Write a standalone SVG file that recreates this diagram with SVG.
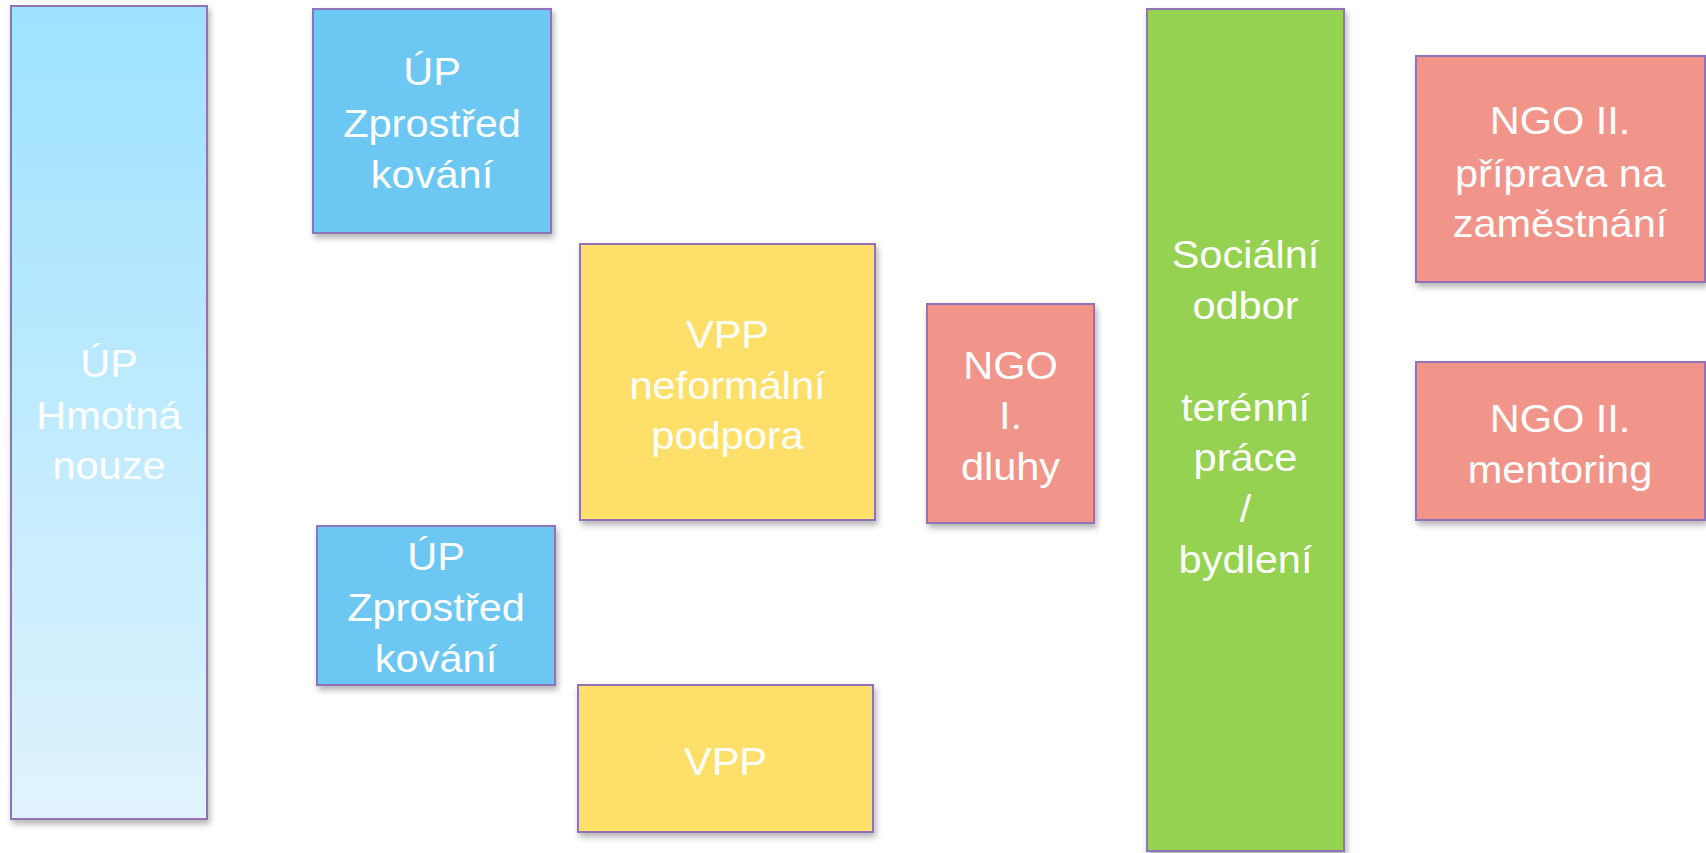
<svg xmlns="http://www.w3.org/2000/svg" width="1706" height="853" viewBox="0 0 1706 853">
<defs>
<linearGradient id="gradHN" x1="0" y1="0" x2="0" y2="1">
<stop offset="0" stop-color="#9DE2FF"/>
<stop offset="1" stop-color="#E0F3FD"/>
</linearGradient>
<filter id="shadow" x="-10%" y="-10%" width="130%" height="130%">
<feDropShadow dx="2" dy="4" stdDeviation="3" flood-color="#000" flood-opacity="0.3"/>
</filter>
<style>
.box{stroke:#9273B8;stroke-width:2;filter:url(#shadow)}
.blue{fill:#6CC8F3}
.yellow{fill:#FEDF69}
.pink{fill:#F1958A}
.green{fill:#95D251}
.lbl{font-family:"Liberation Sans",Arial,sans-serif;font-size:39px;fill:#FFFFFF;text-anchor:middle}
</style>
</defs>
<rect width="1706" height="853" fill="#FFFFFF"/>
<g id="connectors"></g>
<g id="node-hmotna-nouze">
<rect class="box" x="11" y="6" width="196" height="813" fill="url(#gradHN)"/>
<g transform="translate(109 0) scale(1.065 1)"><text class="lbl"><tspan x="0" y="377">ÚP</tspan><tspan x="0" y="429">Hmotná</tspan><tspan x="0" y="479">nouze</tspan></text></g>
</g>
<g id="node-up-zprostredkovani-1">
<rect class="box blue" x="313" y="9" width="238" height="224"/>
<g transform="translate(432 0) scale(1.065 1)"><text class="lbl"><tspan x="0" y="85">ÚP</tspan><tspan x="0" y="137">Zprostřed</tspan><tspan x="0" y="188">kování</tspan></text></g>
</g>
<g id="node-vpp-neformalni">
<rect class="box yellow" x="580" y="244" width="295" height="276"/>
<g transform="translate(727.5 0) scale(1.065 1)"><text class="lbl"><tspan x="0" y="348">VPP</tspan><tspan x="0" y="399">neformální</tspan><tspan x="0" y="449">podpora</tspan></text></g>
</g>
<g id="node-up-zprostredkovani-2">
<rect class="box blue" x="317" y="526" width="238" height="159"/>
<g transform="translate(436 0) scale(1.065 1)"><text class="lbl"><tspan x="0" y="570">ÚP</tspan><tspan x="0" y="621">Zprostřed</tspan><tspan x="0" y="672">kování</tspan></text></g>
</g>
<g id="node-vpp">
<rect class="box yellow" x="578" y="685" width="295" height="147"/>
<g transform="translate(725.5 0) scale(1.065 1)"><text class="lbl"><tspan x="0" y="775">VPP</tspan></text></g>
</g>
<g id="node-ngo-1">
<rect class="box pink" x="927" y="304" width="167" height="219"/>
<g transform="translate(1010.5 0) scale(1.065 1)"><text class="lbl"><tspan x="0" y="379">NGO</tspan><tspan x="0" y="429">I.</tspan><tspan x="0" y="480">dluhy</tspan></text></g>
</g>
<g id="node-socialni-odbor">
<rect class="box green" x="1147" y="9" width="197" height="842"/>
<g transform="translate(1245.5 0) scale(1.065 1)"><text class="lbl"><tspan x="0" y="268">Sociální</tspan><tspan x="0" y="319">odbor</tspan><tspan x="0" y="421">terénní</tspan><tspan x="0" y="471">práce</tspan><tspan x="0" y="522">/</tspan><tspan x="0" y="573">bydlení</tspan></text></g>
</g>
<g id="node-ngo-2-priprava">
<rect class="box pink" x="1416" y="56" width="289" height="226"/>
<g transform="translate(1560 0) scale(1.065 1)"><text class="lbl"><tspan x="0" y="134">NGO II.</tspan><tspan x="0" y="187">příprava na</tspan><tspan x="0" y="237">zaměstnání</tspan></text></g>
</g>
<g id="node-ngo-2-mentoring">
<rect class="box pink" x="1416" y="362" width="289" height="158"/>
<g transform="translate(1560 0) scale(1.065 1)"><text class="lbl"><tspan x="0" y="432">NGO II.</tspan><tspan x="0" y="483">mentoring</tspan></text></g>
</g>
</svg>
